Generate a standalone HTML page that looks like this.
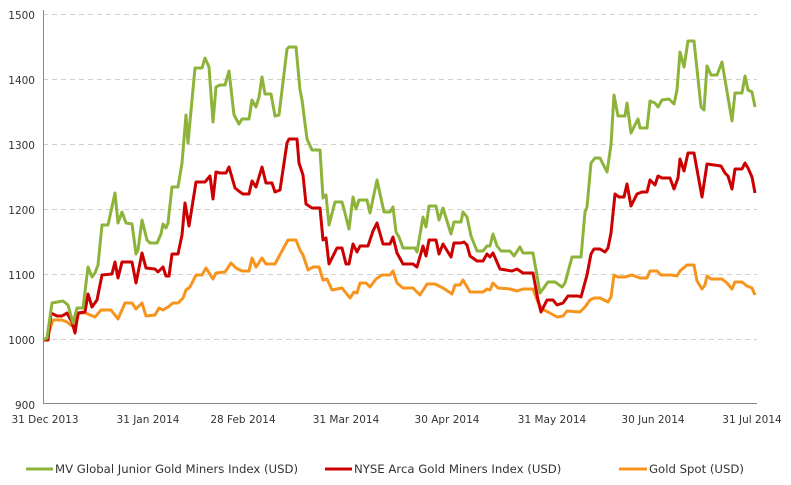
<!DOCTYPE html>
<html><head><meta charset="utf-8"><style>
body{margin:0;background:#fff}
svg text{font-family:"DejaVu Sans","Liberation Sans",sans-serif;font-size:10.5px;fill:#333}
svg text.lg{font-size:11.7px}
</style></head><body>
<svg width="791" height="480" xmlns="http://www.w3.org/2000/svg">
<g stroke="#d0d0d0" stroke-dasharray="5,4" stroke-width="1">
<line x1="43" y1="14.5" x2="757" y2="14.5"/><line x1="43" y1="79.5" x2="757" y2="79.5"/>
<line x1="43" y1="144.5" x2="757" y2="144.5"/><line x1="43" y1="209.5" x2="757" y2="209.5"/>
<line x1="43" y1="274.5" x2="757" y2="274.5"/><line x1="43" y1="339.5" x2="757" y2="339.5"/>
</g>
<line x1="43.5" y1="10" x2="43.5" y2="404" stroke="#888"/>
<line x1="43" y1="403.5" x2="757" y2="403.5" stroke="#888"/>
<g text-anchor="end">
<text x="35" y="19">1500</text><text x="35" y="84">1400</text><text x="35" y="149">1300</text>
<text x="35" y="214">1200</text><text x="35" y="279">1100</text><text x="35" y="344">1000</text><text x="35" y="409">900</text>
</g>
<g text-anchor="middle">
<text x="45" y="423">31 Dec 2013</text><text x="148" y="423">31 Jan 2014</text><text x="243" y="423">28 Feb 2014</text>
<text x="346" y="423">31 Mar 2014</text><text x="447" y="423">30 Apr 2014</text><text x="552" y="423">31 May 2014</text>
<text x="653" y="423">30 Jun 2014</text><text x="752" y="423">31 Jul 2014</text>
</g>
<g fill="none" stroke-width="3" stroke-linejoin="round">
<polyline stroke="#f7941d" points="43,340 47,338 53,320 62,320 67,322 72,326 76,323 79,313 86,313 90,315 95,317 101,310 111,310 118,319 125,303 132,303 136,309 142,303 146,316 155,315 159,308 163,310 168,307 173,303 178,303 183,298 186,290 190,287 196,275 202,275 206,268 213,279 216,273 225,272 231,263 236,268 242,271 249,271 252,258 256,267 262,258 266,264 275,264 283,249 288,240 296,240 300,250 303,255 308,270 313,267 319,267 323,280 327,279 332,290 342,288 350,298 354,292 357,293 360,283 366,283 370,287 376,279 382,275 390,275 393,271 397,283 403,288 413,288 420,295 427,284 435,284 443,288 452,294 455,285 460,285 463,280 470,292 483,292 487,289 490,290 493,283 498,288 510,289 517,291 523,289 533,289 537,300 542,309 550,313 557,317 563,316 567,311 580,312 585,307 590,300 594,298 600,298 608,302 611,297 614,275 618,277 625,277 632,275 640,278 647,278 650,271 657,271 661,275 671,275 677,276 680,271 687,265 694,265 697,281 702,289 705,285 707,276 711,279 722,279 727,283 732,289 735,282 742,282 747,286 752,288 755,295"/>
<polyline stroke="#cc0000" points="43,340 48,340 51,313 57,316 62,316 67,313 72,322 75,333 78,313 85,312 88,294 92,307 97,300 102,275 112,274 115,262 118,278 122,262 132,262 136,283 142,253 146,268 155,269 158,272 163,267 166,276 169,276 172,254 178,254 182,235 185,203 189,226 196,182 205,182 210,176 213,199 216,172 220,173 226,173 229,167 235,188 240,192 243,194 249,194 252,181 256,187 262,167 266,183 272,183 275,192 280,190 287,143 289,139 297,139 299,163 303,175 306,204 312,208 320,208 323,240 326,238 329,264 337,248 342,248 346,264 349,264 353,244 357,252 360,246 368,246 373,231 377,223 383,244 390,244 393,237 397,253 403,264 413,264 417,267 423,246 426,256 429,240 436,240 439,254 443,244 451,257 454,243 461,243 464,242 467,245 470,256 477,261 483,261 487,254 490,257 493,253 500,269 512,271 517,269 523,273 533,273 538,300 541,312 547,300 553,300 557,305 563,303 568,296 578,296 581,297 587,275 591,254 594,249 600,249 605,252 608,248 611,233 615,194 619,197 624,197 627,184 631,206 637,194 642,192 647,192 650,180 655,185 658,176 662,178 670,178 674,189 678,178 680,159 684,171 688,153 694,153 702,197 707,164 714,165 721,166 725,173 728,176 732,189 735,169 742,169 745,163 748,168 752,177 755,193"/>
<polyline stroke="#8db33a" points="43,340 47,338 52,303 63,301 68,305 73,323 77,308 83,308 88,267 92,277 95,273 98,265 102,225 108,225 115,193 118,223 122,212 126,223 132,224 136,254 138,250 142,220 147,240 150,243 157,243 161,234 163,224 166,228 168,223 172,187 178,187 182,163 186,115 188,143 195,68 202,68 205,58 209,67 213,122 216,87 220,85 225,85 229,71 234,115 239,124 242,119 249,119 252,100 256,107 259,97 262,77 265,94 271,94 275,116 279,115 287,49 289,47 296,47 300,90 302,100 307,139 312,150 320,150 323,198 326,195 329,225 335,202 342,202 345,213 349,229 353,197 356,209 359,200 367,200 370,213 377,180 384,212 390,212 393,207 396,232 399,237 403,248 415,248 417,252 423,217 426,227 429,206 436,206 439,220 443,208 451,234 454,222 461,222 463,212 467,217 471,236 477,251 483,251 487,246 490,246 493,234 497,246 501,251 510,251 514,256 520,247 523,253 533,253 540,293 548,282 555,282 562,287 565,283 572,257 581,257 585,212 587,207 591,163 595,158 600,158 607,172 611,145 614,95 618,116 625,116 627,103 631,133 638,119 640,128 647,128 650,101 655,103 658,107 662,100 669,99 674,104 677,90 680,52 684,67 688,41 694,41 701,107 704,110 707,66 711,75 717,75 722,62 732,121 735,93 742,93 745,76 748,90 752,92 755,107"/>
</g>
<g stroke-width="3">
<line x1="26" y1="469" x2="53" y2="469" stroke="#8db33a"/>
<line x1="325" y1="469" x2="352" y2="469" stroke="#cc0000"/>
<line x1="619" y1="469" x2="647" y2="469" stroke="#f7941d"/>
</g>
<text class="lg" x="55" y="473">MV Global Junior Gold Miners Index (USD)</text>
<text class="lg" x="354" y="473">NYSE Arca Gold Miners Index (USD)</text>
<text class="lg" x="649" y="473">Gold Spot (USD)</text>
</svg>
</body></html>
